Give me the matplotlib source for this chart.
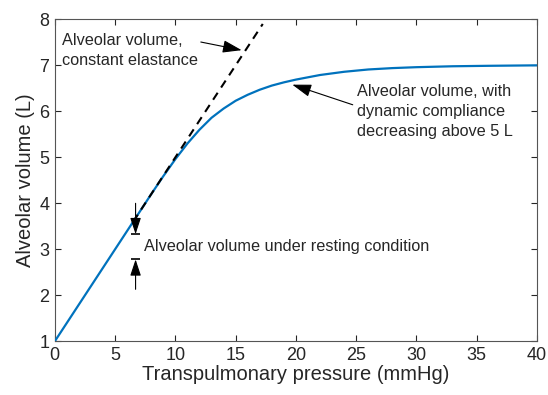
import matplotlib
matplotlib.use("Agg")
import matplotlib.pyplot as plt

# values
pressure = [0, 5, 8, 9, 10, 11, 12, 13, 14, 15, 16, 17, 18, 19, 20, 22, 24, 26, 28, 30, 33, 36, 40]
volume = [1.0, 3.0, 4.2, 4.59, 4.96, 5.3, 5.6, 5.86, 6.06, 6.23, 6.36, 6.47, 6.56, 6.63, 6.69,
          6.79, 6.86, 6.91, 6.94, 6.96, 6.98, 6.99, 7.0]

elastance_p = [6.5, 17.25]
elastance_v = [3.6, 7.9]

rest_p = 6.7
rest_top = [4.0, 3.33]     # down arrow: start, bar
rest_bottom = [2.13, 2.78]  # up arrow: start, bar

xticks = [0, 5, 10, 15, 20, 25, 30, 35, 40]
yticks = [1, 2, 3, 4, 5, 6, 7, 8]

plt.rcParams['font.family'] = ['Liberation Sans', 'DejaVu Sans']
grey = '#262626'

fig = plt.figure(figsize=(5.48, 3.95), dpi=100)
ax = fig.add_axes([0.100, 0.136, 0.880, 0.815])

ax.plot(pressure, volume, color='#0072BD', lw=1.6, zorder=3)
ax.plot(elastance_p, elastance_v, color='black', lw=1.5, ls=(0, (4, 3)), zorder=4)

ax.set_xlim(0, 40)
ax.set_ylim(1, 8)
ax.set_xticks(xticks)
ax.set_yticks(yticks)
ax.tick_params(direction='in', top=True, right=True, length=4, width=0.8,
               colors=grey, labelsize=13, pad=4)
for s in ax.spines.values():
    s.set_color('#555555')
    s.set_linewidth(0.8)
ax.set_xlabel('Transpulmonary pressure (mmHg)', fontsize=14.5, color=grey, labelpad=1)
ax.set_ylabel('Alveolar volume (L)', fontsize=14.5, color=grey, labelpad=3)

arrow = dict(arrowstyle='-|>,head_length=1.0,head_width=0.33', color='black', lw=0.8,
             shrinkA=0, shrinkB=0)

ax.annotate('Alveolar volume,\nconstant elastance', xy=(15.5, 7.33), xytext=(0.6, 7.33),
            fontsize=11.7, color=grey, ha='left', va='center', linespacing=1.4,
            arrowprops=dict(arrow, relpos=(1.0, 0.75)))
ax.annotate('Alveolar volume, with\ndynamic compliance\ndecreasing above 5 L',
            xy=(19.7, 6.58), xytext=(25.1, 6.0),
            fontsize=11.7, color=grey, ha='left', va='center', linespacing=1.4,
            arrowprops=dict(arrow, relpos=(-0.03, 0.62)))

# resting condition markers
ax.annotate('', xy=(rest_p, rest_top[1]), xytext=(rest_p, rest_top[0]), arrowprops=arrow)
ax.annotate('', xy=(rest_p, rest_bottom[1]), xytext=(rest_p, rest_bottom[0]), arrowprops=arrow)
ax.hlines([rest_top[1], rest_bottom[1]], rest_p - 0.4, rest_p + 0.4, color='black', lw=1.2, zorder=5)
ax.text(7.4, 3.07, 'Alveolar volume under resting condition', fontsize=11.7, color=grey,
        ha='left', va='center')

fig.savefig('out.png', dpi=100)
